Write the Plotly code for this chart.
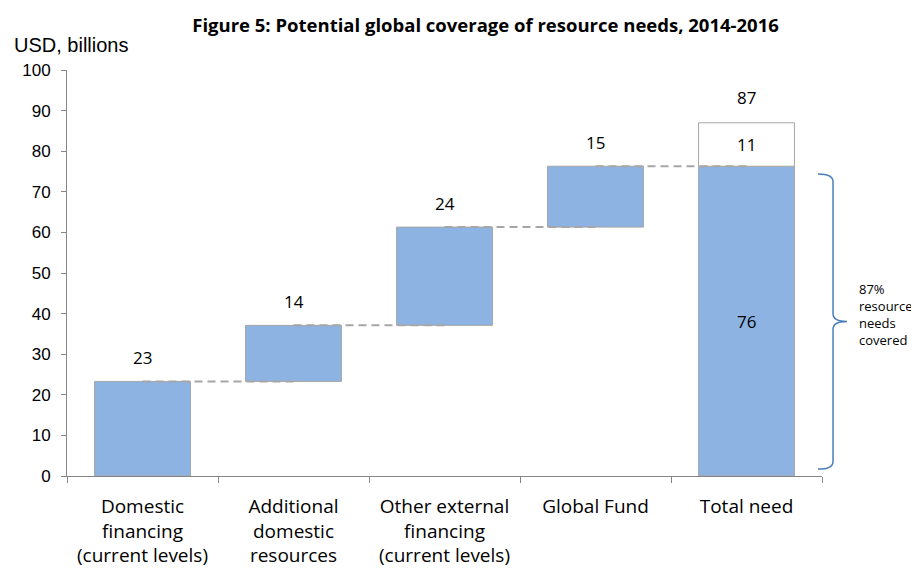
import plotly.graph_objects as go

# ---- data ----
categories = ["Domestic<br>financing<br>(current levels)",
              "Additional<br>domestic<br>resources",
              "Other external<br>financing<br>(current levels)",
              "Global Fund",
              "Total need"]
contributions = [23.3, 13.8, 24.2, 15.0]   # USD billions
total_need = 87.0
coverage_text = "87%<br>resource<br>needs<br>covered"

# ---- derived ----
bases = []
run = 0.0
for v in contributions:
    bases.append(run)
    run += v
covered = run
unmet = total_need - covered

BLUE = "#8DB3E2"
EDGE = "#A6A6A6"
CAL = "Open Sans, Lato, sans-serif"
ARIAL = "Liberation Sans, Arial, sans-serif"

fig = go.Figure()

# connector dashed lines (center of bar i to center of bar i+1)
for i in range(len(contributions)):
    lvl = bases[i] + contributions[i]
    fig.add_trace(go.Scatter(x=[categories[i], categories[i + 1]], y=[lvl, lvl],
                             mode="lines", line=dict(color=EDGE, width=2, dash="8px,5px"),
                             hoverinfo="skip", showlegend=False))

# floating contribution bars
fig.add_trace(go.Bar(x=categories[:4], y=contributions, base=bases,
                     marker=dict(color=BLUE, line=dict(color=EDGE, width=1)),
                     width=0.635, showlegend=False))
# total need: covered + unmet
fig.add_trace(go.Bar(x=[categories[4]], y=[covered], base=[0],
                     marker=dict(color=BLUE, line=dict(color=EDGE, width=1)),
                     width=0.635, showlegend=False))
fig.add_trace(go.Bar(x=[categories[4]], y=[unmet], base=[covered],
                     marker=dict(color="white", line=dict(color=EDGE, width=1)),
                     width=0.635, showlegend=False))

LBL = dict(family=CAL, size=17, color="#000")
ann = []
for i, v in enumerate(contributions):
    ann.append(dict(x=categories[i], y=bases[i] + v, yshift=24, text=f"{round(v):d}",
                    showarrow=False, yanchor="middle", font=LBL))
ann.append(dict(x=categories[4], y=total_need, yshift=25, text=f"{round(total_need):d}",
                showarrow=False, yanchor="middle", font=LBL))
ann.append(dict(x=categories[4], y=covered + unmet / 2, text=f"{round(unmet):d}",
                showarrow=False, yanchor="middle", font=LBL))
ann.append(dict(x=categories[4], y=covered / 2, text=f"{round(covered):d}",
                showarrow=False, yanchor="middle", font=LBL))
ann.append(dict(xref="paper", yref="paper", x=-0.073, y=1.062, xanchor="left", yanchor="middle",
                text="USD, billions", showarrow=False, font=dict(family=ARIAL, size=20, color="#000")))
ann.append(dict(xref="paper", yref="y", x=1.046, y=39.9, xanchor="left", yanchor="middle",
                align="left", text=coverage_text, showarrow=False,
                font=dict(family=CAL, size=13, color="#000")))

# curly brace
xl, xv, xt = 0.9947, 1.0146, 1.0331
yt, yb = covered - 1.9, 1.7
ym = (yt + yb) / 2
path = (f"M {xl},{yt} Q {xv},{yt} {xv},{yt-1.9} L {xv},{ym+1.9} "
        f"Q {xv},{ym} {xt},{ym} Q {xv},{ym} {xv},{ym-1.9} "
        f"L {xv},{yb+1.9} Q {xv},{yb} {xl},{yb}")
shapes = [dict(type="path", xref="paper", yref="y", path=path,
               line=dict(color="#4A7EBB", width=1.5))]

# page has an 8px body margin: figure is 911x561 so it fills the 919x569 window
fig.update_layout(
    width=911, height=561, autosize=False,
    margin=dict(l=59, r=97, t=62, b=93),
    paper_bgcolor="white", plot_bgcolor="white",
    barmode="overlay",
    title=dict(text="<b>Figure 5: Potential global coverage of resource needs, 2014-2016</b>",
               x=0.5242, xanchor="center", y=1 - 18 / 561, yanchor="middle",
               font=dict(family=CAL, size=18.5, color="#000")),
    annotations=ann, shapes=shapes,
    xaxis=dict(type="category", showline=True, linecolor="#868686", linewidth=1,
               ticks="outside", tickson="boundaries", ticklen=6, tickcolor="#868686",
               showgrid=False, ticklabelstandoff=13, automargin=False,
               tickfont=dict(family=CAL, size=19, color="#000")),
    yaxis=dict(range=[0, 100], dtick=10, showline=True, linecolor="#868686", linewidth=1,
               ticks="outside", ticklen=5, tickcolor="#868686", showgrid=False, zeroline=False,
               ticklabelstandoff=7, automargin=False,
               tickfont=dict(family=ARIAL, size=17, color="#000")),
)

fig.write_html("out.html")
